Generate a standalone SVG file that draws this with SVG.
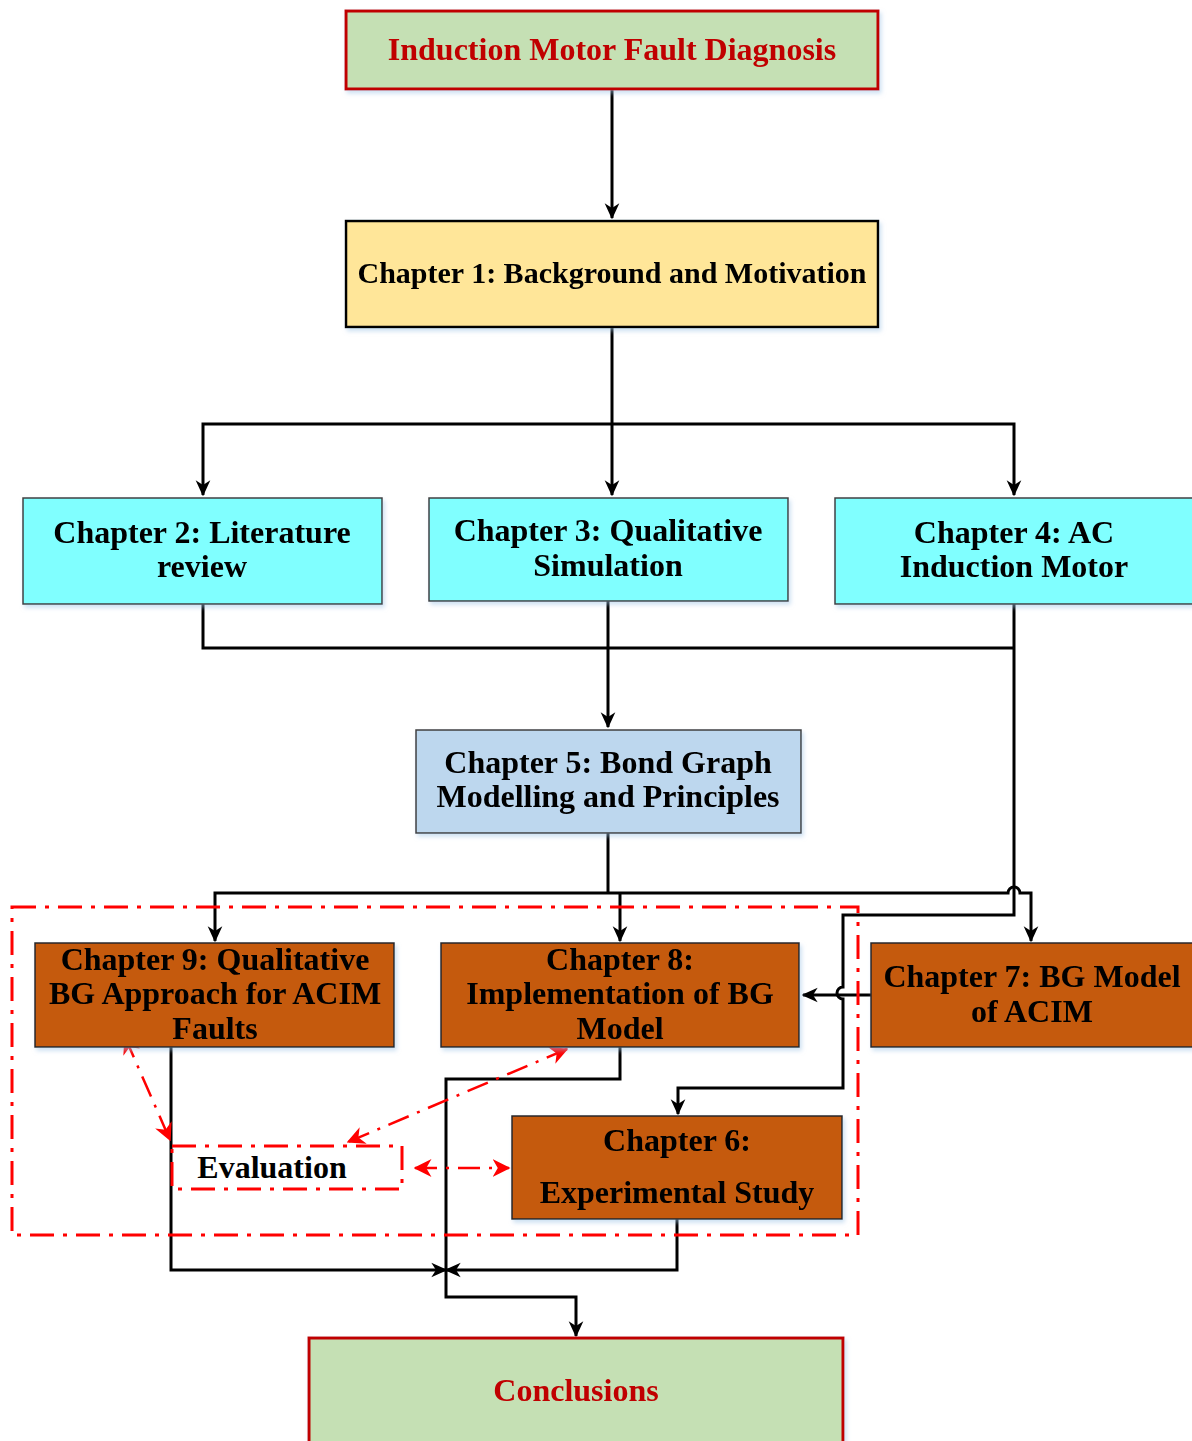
<svg xmlns="http://www.w3.org/2000/svg" width="1192" height="1441" viewBox="0 0 1192 1441">
<defs>
<style>
.t{font-family:"Liberation Serif","Times New Roman",serif;font-weight:bold;font-size:32px;text-anchor:middle;fill:#000}
.tr{fill:#c00000}
.c{fill:none;stroke:#000;stroke-width:3}
.rd{fill:none;stroke:#ff0000;stroke-width:3;stroke-dasharray:24 9 4 9}
.ra{fill:none;stroke:#ff0000;stroke-width:2.5;stroke-dasharray:22 9 3 9}
.g{fill:#c5e0b4;stroke:#c00000;stroke-width:3}
.y{fill:#ffe699;stroke:#000;stroke-width:2.5}
.cy{fill:#80ffff;stroke:#404040;stroke-width:1.5}
.bl{fill:#bdd7ee;stroke:#404040;stroke-width:1.5}
.o{fill:#c55a11;stroke:#262626;stroke-width:1.5}
</style>
<filter id="sh" x="-5%" y="-5%" width="115%" height="120%">
<feDropShadow dx="2" dy="3" stdDeviation="2" flood-color="#9dc3e6" flood-opacity="0.5"/>
</filter>
<marker id="ab" viewBox="0 0 12 12" refX="11" refY="6" markerWidth="16" markerHeight="16" markerUnits="userSpaceOnUse" orient="auto-start-reverse">
<path d="M0,0.5 L12,6 L0,11.5 L3.5,6 z" fill="#000"/>
</marker>
<marker id="ar" viewBox="0 0 12 12" refX="11" refY="6" markerWidth="18" markerHeight="18" markerUnits="userSpaceOnUse" orient="auto-start-reverse">
<path d="M0,0 L12,6 L0,12 L3.5,6 z" fill="#ff0000"/>
</marker>
</defs>
<rect width="1192" height="1441" fill="#fff"/>

<g id="connectors">
<path class="c" d="M612,89 V218" marker-end="url(#ab)"/>
<path class="c" d="M612,327 V495" marker-end="url(#ab)"/>
<path class="c" d="M203,495 V424 H1014 V495" marker-start="url(#ab)" marker-end="url(#ab)"/>
<path class="c" d="M203,604 V648 H1014"/>
<path class="c" d="M608,601 V727" marker-end="url(#ab)"/>
<path class="c" d="M1014,604 V915 H843 V987 a6,6 0 0 0 0,12 V1088 H678 V1114" marker-end="url(#ab)"/>
<path class="c" d="M608,833 V893"/>
<path class="c" d="M215,941 V893 H1008 a6,6 0 0 1 12,0 H1031 V941" marker-start="url(#ab)" marker-end="url(#ab)"/>
<path class="c" d="M620,893 V941" marker-end="url(#ab)"/>
<path class="c" d="M871,995 H803" marker-end="url(#ab)"/>
<path class="c" d="M171,1047 V1270 H446" marker-end="url(#ab)"/>
<path class="c" d="M677,1219 V1270 H446" marker-end="url(#ab)"/>
<path class="c" d="M620,1047 V1079 H446 V1297 H576 V1336" marker-end="url(#ab)"/>
<path class="ra" d="M125,1037 L170,1140" marker-start="url(#ar)" marker-end="url(#ar)"/>
<path class="ra" d="M567,1049 L348,1142" marker-start="url(#ar)" marker-end="url(#ar)"/>
<path class="ra" d="M415,1168 H509" marker-start="url(#ar)" marker-end="url(#ar)"/>
</g>

<g id="group-boundary">
<rect class="rd" x="12" y="907" width="846" height="328"/>
</g>

<g id="n-top" filter="url(#sh)">
<rect class="g" x="346" y="11" width="532" height="78"/>
<text class="t tr" x="612" y="60">Induction Motor Fault Diagnosis</text>
</g>
<g id="n-ch1" filter="url(#sh)">
<rect class="y" x="346" y="221" width="532" height="106"/>
<text class="t" x="612" y="283" style="font-size:30px">Chapter 1: Background and Motivation</text>
</g>
<g id="n-ch2" filter="url(#sh)">
<rect class="cy" x="23" y="498" width="359" height="106"/>
<text class="t" x="202" y="543">Chapter 2: Literature</text>
<text class="t" x="202" y="577">review</text>
</g>
<g id="n-ch3" filter="url(#sh)">
<rect class="cy" x="429" y="498" width="359" height="103"/>
<text class="t" x="608" y="541">Chapter 3: Qualitative</text>
<text class="t" x="608" y="576">Simulation</text>
</g>
<g id="n-ch4" filter="url(#sh)">
<rect class="cy" x="835" y="498" width="362" height="106"/>
<text class="t" x="1014" y="543">Chapter 4: AC</text>
<text class="t" x="1014" y="577">Induction Motor</text>
</g>
<g id="n-ch5" filter="url(#sh)">
<rect class="bl" x="416" y="730" width="385" height="103"/>
<text class="t" x="608" y="773">Chapter 5: Bond Graph</text>
<text class="t" x="608" y="807">Modelling and Principles</text>
</g>
<g id="n-ch9" filter="url(#sh)">
<rect class="o" x="35" y="943" width="359" height="104"/>
<text class="t" x="215" y="970">Chapter 9: Qualitative</text>
<text class="t" x="215" y="1004">BG Approach for ACIM</text>
<text class="t" x="215" y="1039">Faults</text>
</g>
<g id="n-ch8" filter="url(#sh)">
<rect class="o" x="441" y="943" width="358" height="104"/>
<text class="t" x="620" y="970">Chapter 8:</text>
<text class="t" x="620" y="1004">Implementation of BG</text>
<text class="t" x="620" y="1039">Model</text>
</g>
<g id="n-ch7" filter="url(#sh)">
<rect class="o" x="871" y="943" width="326" height="104"/>
<text class="t" x="1032" y="987">Chapter 7: BG Model</text>
<text class="t" x="1032" y="1022">of ACIM</text>
</g>
<g id="n-ch6" filter="url(#sh)">
<rect class="o" x="512" y="1116" width="330" height="103"/>
<text class="t" x="677" y="1151">Chapter 6:</text>
<text class="t" x="677" y="1203">Experimental Study</text>
</g>
<g id="n-eval">
<rect class="rd" x="172" y="1146" width="230" height="43"/>
<text class="t" x="272" y="1178">Evaluation</text>
</g>
<g id="n-concl" filter="url(#sh)">
<rect class="g" x="309" y="1338" width="534" height="110"/>
<text class="t tr" x="576" y="1401">Conclusions</text>
</g>
</svg>
